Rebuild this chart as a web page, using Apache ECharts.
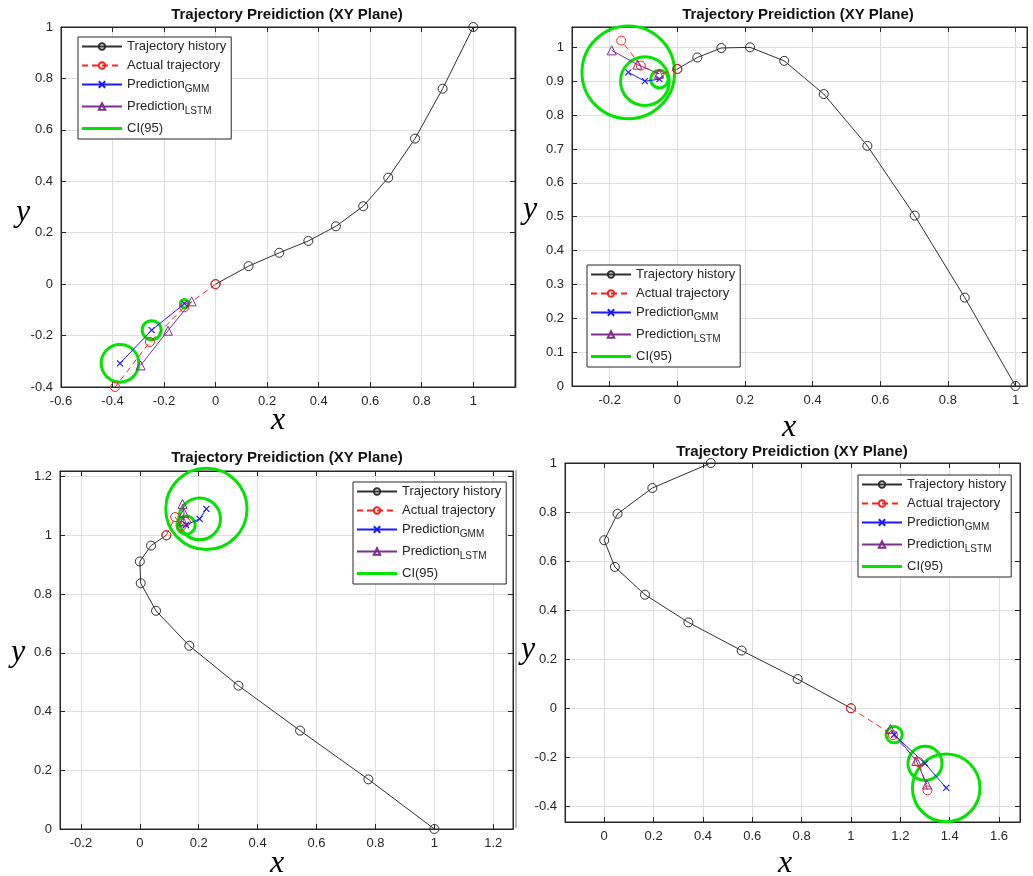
<!DOCTYPE html>
<html>
<head>
<meta charset="utf-8">
<title>Trajectory Preidiction (XY Plane)</title>
<script src="https://cdn.jsdelivr.net/npm/echarts@6/dist/echarts.min.js"></script>
<style>
  html, body { margin: 0; padding: 0; background: #fff; }
  #chart-container { width: 1033px; height: 876px; }
</style>
</head>
<body>
<div id="chart-container"></div>
<script>
// points are [x, y]; CI rings are [x, y, radius]

// top left panel
var p1History = [[1, 1], [0.881, 0.760], [0.774, 0.566], [0.670, 0.414], [0.573, 0.303], [0.467, 0.225], [0.360, 0.168], [0.247, 0.122], [0.128, 0.070], [0, 0]];
var p1Actual = [[0, 0], [-0.122, -0.090], [-0.255, -0.225], [-0.390, -0.400]];
var p1Gmm = [[-0.121, -0.076], [-0.248, -0.179], [-0.371, -0.308]];
var p1Lstm = [[-0.093, -0.067], [-0.185, -0.181], [-0.291, -0.316]];
var p1Ci = [[-0.121, -0.076, 0.016], [-0.248, -0.179, 0.037], [-0.371, -0.308, 0.073]];

// top right panel
var p2History = [[1, 0], [0.850, 0.261], [0.702, 0.503], [0.562, 0.709], [0.433, 0.862], [0.316, 0.960], [0.215, 1.000], [0.130, 0.998], [0.059, 0.970], [0, 0.936]];
var p2Actual = [[0, 0.936], [-0.053, 0.920], [-0.108, 0.946], [-0.166, 1.020]];
var p2Gmm = [[-0.053, 0.906], [-0.096, 0.900], [-0.145, 0.926]];
var p2Lstm = [[-0.054, 0.922], [-0.118, 0.949], [-0.194, 0.991]];
var p2Ci = [[-0.053, 0.906, 0.026], [-0.096, 0.900, 0.072], [-0.145, 0.926, 0.137]];

// bottom left panel
var p3History = [[1, 0], [0.776, 0.169], [0.544, 0.335], [0.335, 0.488], [0.168, 0.624], [0.055, 0.743], [0.003, 0.837], [0, 0.911], [0.038, 0.965], [0.090, 1.000]];
var p3Actual = [[0.090, 1.000], [0.120, 1.062], [0.142, 1.032], [0.156, 1.045]];
var p3Gmm = [[0.157, 1.035], [0.203, 1.056], [0.226, 1.090]];
var p3Lstm = [[0.147, 1.047], [0.150, 1.077], [0.145, 1.107]];
var p3Ci = [[0.157, 1.035, 0.031], [0.203, 1.056, 0.071], [0.226, 1.090, 0.138]];

// bottom right panel
var p4History = [[0.432, 1], [0.195, 0.898], [0.054, 0.793], [0, 0.685], [0.043, 0.576], [0.165, 0.463], [0.341, 0.350], [0.557, 0.235], [0.784, 0.119], [1, 0]];
var p4Actual = [[1, 0], [1.170, -0.110], [1.275, -0.220], [1.310, -0.335]];
var p4Gmm = [[1.175, -0.108], [1.300, -0.225], [1.386, -0.325]];
var p4Lstm = [[1.160, -0.085], [1.265, -0.215], [1.308, -0.311]];
var p4Ci = [[1.175, -0.108, 0.033], [1.300, -0.225, 0.069], [1.386, -0.325, 0.137]];

var legendNames = ['Trajectory history', 'Actual trajectory', 'PredictionGMM', 'PredictionLSTM', 'CI(95)'];
var titleText = 'Trajectory Preidiction (XY Plane)';

var panels = [
  { history: p1History, actual: p1Actual, gmm: p1Gmm, lstm: p1Lstm, ci: p1Ci },
  { history: p2History, actual: p2Actual, gmm: p2Gmm, lstm: p2Lstm, ci: p2Ci },
  { history: p3History, actual: p3Actual, gmm: p3Gmm, lstm: p3Lstm, ci: p3Ci },
  { history: p4History, actual: p4Actual, gmm: p4Gmm, lstm: p4Lstm, ci: p4Ci }
];

// pixel layout + axis extents of each panel
var boxes = [
  { left: 61, top: 27, width: 454, height: 360, x: [-0.6, 1.162, 0.2], y: [-0.4, 1, 0.2],
    legend: [78, 37], title: [287, 15], xName: [278, 421], yName: [23, 213] },
  { left: 572, top: 27, width: 455, height: 359, x: [-0.3115, 1.034, 0.2], y: [0, 1.06, 0.1],
    legend: [587, 265], title: [798, 15], xName: [789, 428], yName: [530, 210] },
  { left: 60, top: 471, width: 453, height: 358, x: [-0.271, 1.267, 0.2], y: [0, 1.219, 0.2],
    legend: [353, 482], title: [287, 458], xName: [277, 864], yName: [18, 653] },
  { left: 565, top: 463, width: 455, height: 359, x: [-0.159, 1.685, 0.2], y: [-0.464, 1, 0.2],
    legend: [858, 475], title: [792, 452], xName: [785, 864], yName: [528, 650] }
];

var AXIS = '#262626';
var FONT = '"Liberation Sans", Arial, sans-serif';
var GREEN = '#00e400';

function tickLabel(step) {
  return function (v) {
    var k = v / step;
    if (Math.abs(k - Math.round(k)) > 1e-6) return '';
    return String(+v.toFixed(2));
  };
}

function makeAxis(i, ext, pos, main) {
  return {
    type: 'value',
    gridIndex: i,
    position: pos,
    min: ext[0],
    max: ext[1],
    minInterval: ext[2],
    maxInterval: ext[2],
    splitNumber: 10,
    axisLine: { show: true, onZero: false, lineStyle: { color: AXIS, width: 1 } },
    axisTick: { show: true, inside: true, length: 5, lineStyle: { color: AXIS } },
    axisLabel: {
      show: main,
      formatter: tickLabel(ext[2]),
      color: AXIS,
      fontSize: 13,
      fontFamily: FONT,
      margin: 8
    },
    splitLine: { show: main, lineStyle: { color: '#dedede', width: 1 } }
  };
}

// confidence ring drawn in data units through the axes
function renderRing(params, api) {
  var c = api.coord([api.value(0), api.value(1)]);
  var s = api.size([api.value(2), api.value(2)]);
  return {
    type: 'circle',
    shape: { cx: c[0], cy: c[1], r: s[0] },
    style: { fill: 'none', stroke: GREEN, lineWidth: 3 }
  };
}

var hollow = 'rgba(0,0,0,0)';
var crossMark = 'path://M0,0L10,10M0,10L10,0';
// thick bar in the middle of the 40x8 legend icon box (outer moveTo's keep the box)
var barIcon = 'path://M0,0M0,2.4L40,2.4L40,5.6L0,5.6ZM40,8';

var grid = [], xAxis = [], yAxis = [], series = [], legend = [], graphic = [];

var legendData = legendNames.map(function (n) {
  return n === 'CI(95)' ? { name: n, icon: barIcon, itemStyle: { color: GREEN } } : { name: n };
});

boxes.forEach(function (b, i) {
  var p = panels[i];
  grid.push({
    left: b.left, top: b.top, width: b.width, height: b.height,
    show: true, borderColor: AXIS, borderWidth: 1, backgroundColor: '#fff'
  });
  xAxis.push(makeAxis(i, b.x, 'bottom', true));
  yAxis.push(makeAxis(i, b.y, 'left', true));

  series.push({
    type: 'line', name: 'Trajectory history', xAxisIndex: i, yAxisIndex: i,
    data: p.history, symbol: 'circle', symbolSize: 9, clip: false,
    lineStyle: { color: '#303030', width: 1 },
    itemStyle: { color: hollow, borderColor: '#303030', borderWidth: 1 }
  });
  series.push({
    type: 'line', name: 'Actual trajectory', xAxisIndex: i, yAxisIndex: i,
    data: p.actual, symbol: 'circle', symbolSize: 9, clip: false,
    lineStyle: { color: '#ff2020', width: 1, type: [6, 4] },
    itemStyle: { color: hollow, borderColor: '#ff2020', borderWidth: 1 }
  });
  series.push({
    type: 'line', name: 'PredictionGMM', xAxisIndex: i, yAxisIndex: i,
    data: p.gmm, symbol: crossMark, symbolSize: 6, clip: false,
    lineStyle: { color: '#1a1aff', width: 1 },
    itemStyle: { color: hollow, borderColor: '#1a1aff', borderWidth: 1.2 }
  });
  series.push({
    type: 'line', name: 'PredictionLSTM', xAxisIndex: i, yAxisIndex: i,
    data: p.lstm, symbol: 'triangle', symbolSize: 9, clip: false,
    lineStyle: { color: '#7e2f8e', width: 1 },
    itemStyle: { color: hollow, borderColor: '#7e2f8e', borderWidth: 1 }
  });
  series.push({
    type: 'custom', name: 'ring' + i, xAxisIndex: i, yAxisIndex: i,
    data: p.ci, renderItem: renderRing, clip: false,
    encode: { x: 0, y: 1 }, silent: true
  });

  legend.push({
    data: legendData,
    orient: 'vertical',
    left: b.legend[0], top: b.legend[1],
    backgroundColor: '#fff', borderColor: AXIS, borderWidth: 1,
    padding: [3, 5, 4, 3], itemGap: 6, itemWidth: 40, itemHeight: 8,
    selectedMode: false,
    formatter: function (name) {
      if (name === 'PredictionGMM') return '{t|Prediction}{s|GMM}';
      if (name === 'PredictionLSTM') return '{t|Prediction}{s|LSTM}';
      return '{t|' + name + '}';
    },
    textStyle: {
      color: AXIS, fontFamily: FONT, fontSize: 13,
      rich: {
        t: { fontSize: 13, fontFamily: FONT, color: AXIS },
        s: { fontSize: 10, fontFamily: FONT, color: AXIS, padding: [9, 0, 0, 0] }
      }
    }
  });

  graphic.push({
    type: 'text', x: b.title[0], y: b.title[1],
    style: { text: titleText, font: 'bold 15px ' + FONT, fill: '#111', align: 'center', verticalAlign: 'middle' }
  });
  graphic.push({
    type: 'text', x: b.xName[0], y: b.xName[1],
    style: { text: 'x', font: 'italic 32px "Liberation Serif", "Times New Roman", serif', fill: '#000', align: 'center', verticalAlign: 'middle' }
  });
  graphic.push({
    type: 'text', x: b.yName[0], y: b.yName[1],
    style: { text: 'y', font: 'italic 32px "Liberation Serif", "Times New Roman", serif', fill: '#000', align: 'center', verticalAlign: 'middle' }
  });
});

// mirrored box ticks on top/right edges
boxes.forEach(function (b, i) {
  xAxis.push(makeAxis(i, b.x, 'top', false));
  yAxis.push(makeAxis(i, b.y, 'right', false));
});

// legend-only entry for the CI rings
series.push({
  type: 'line', name: 'CI(95)', xAxisIndex: 0, yAxisIndex: 0, data: [],
  symbol: 'none', lineStyle: { color: GREEN, width: 3.5 }, itemStyle: { color: GREEN }
});

// thin separators of the pasted panels
graphic.push({ type: 'line', shape: { x1: 516, y1: 27, x2: 516, y2: 388 }, style: { stroke: '#777', lineWidth: 1 } });
graphic.push({ type: 'line', shape: { x1: 516, y1: 470, x2: 516, y2: 828 }, style: { stroke: '#777', lineWidth: 1 } });

var dom = document.getElementById('chart-container');
var myChart = echarts.init(dom, null, { renderer: 'canvas' });
myChart.setOption({
  animation: false,
  backgroundColor: '#fff',
  grid: grid,
  xAxis: xAxis,
  yAxis: yAxis,
  legend: legend,
  series: series,
  graphic: graphic
});
</script>
</body>
</html>
